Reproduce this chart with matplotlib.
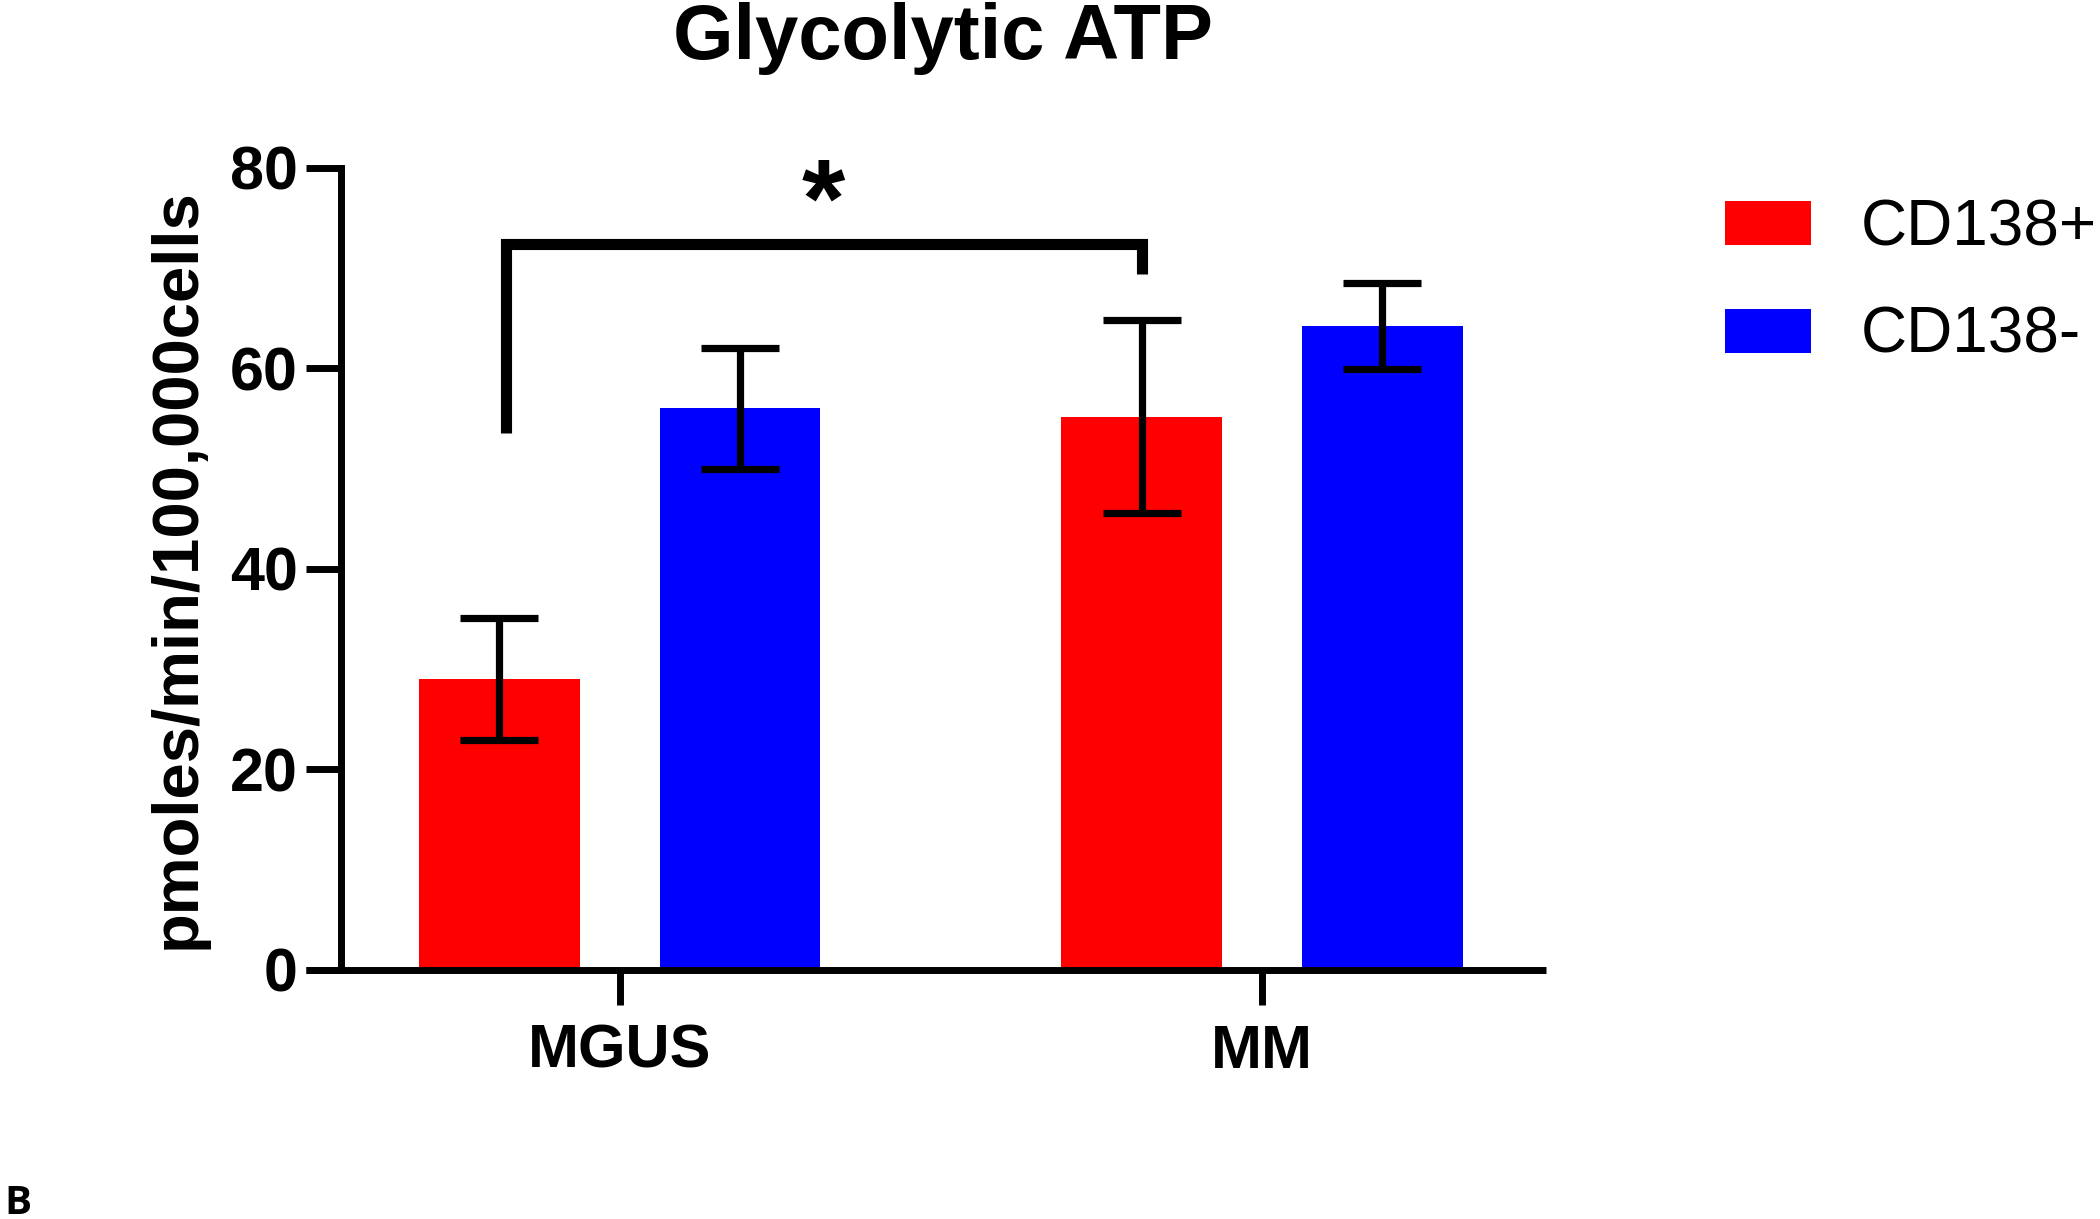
import numpy as np
import matplotlib
matplotlib.use("Agg")
import matplotlib.pyplot as plt
from matplotlib.patches import Patch
from matplotlib.lines import Line2D

# data
groups = ["MGUS", "MM"]
series = ["CD138+", "CD138-"]
colors = ["#ff0000", "#0000ff"]
cd138_pos = [29.0, 55.2]
cd138_pos_err = [6.1, 9.6]
cd138_neg = [56.0, 64.2]
cd138_neg_err = [6.0, 4.3]
y_ticks = [0, 20, 40, 60, 80]

# significance bracket (MGUS CD138+ vs MM CD138+)
bracket_left_y = 53.6
bracket_top_y = 72.4
bracket_right_y = 69.4
star_y = 73.2

plt.rcParams['font.family'] = ['Liberation Sans', 'DejaVu Sans']

fig = plt.figure(figsize=(21, 12.19), dpi=100)
ax = fig.add_axes([0.1624, 0.2045, 0.574, 0.6577])

x = np.arange(len(groups))
width = 0.25
offset = 0.1875

err_kw = dict(elinewidth=5.2, capthick=5.2, ecolor="black")
ax.bar(x - offset, cd138_pos, width, color=colors[0], yerr=cd138_pos_err,
       capsize=28, error_kw=err_kw, label=series[0])
ax.bar(x + offset, cd138_neg, width, color=colors[1], yerr=cd138_neg_err,
       capsize=28, error_kw=err_kw, label=series[1])

# bracket
bx0 = x[0] - offset + 0.01
bx1 = x[1] - offset
ax.plot([bx0, bx0, bx1, bx1], [bracket_left_y, bracket_top_y, bracket_top_y, bracket_right_y],
        color="black", lw=8, solid_joinstyle="miter", solid_capstyle="butt", clip_on=False)
ax.text((bx0 + bx1) / 2, star_y, "*", ha="center", va="baseline",
        fontsize=80, fontweight="bold")

ax.set_xlim(-0.434, 1.443)
ax.set_ylim(0, 80)
ax.set_yticks(y_ticks)
ax.set_xticks(x)
ax.set_xticklabels(groups)

for s in ["top", "right", "bottom"]:
    ax.spines[s].set_visible(False)
ax.spines["left"].set_linewidth(5)
ax.add_line(Line2D([-0.029, 1.0], [0, 0], transform=ax.transAxes, color="black",
                   lw=5, clip_on=False, solid_capstyle="butt"))

ax.tick_params(axis="y", length=25, width=5, pad=6, labelsize=44)
ax.tick_params(axis="x", length=25, width=5, pad=14, labelsize=44)
for lab in ax.get_xticklabels() + ax.get_yticklabels():
    lab.set_fontweight("bold")

fig.text(0.099, 0.5332, "pmoles/min/100,000cells", rotation=90, ha="right", va="center",
         fontsize=47, fontweight="bold")
fig.text(0.449, 0.952, "Glycolytic ATP", ha="center", va="baseline",
         fontsize=56, fontweight="bold")

handles = [Patch(facecolor=c, edgecolor="none") for c in colors]
fig.legend(handles, series, loc="upper left", bbox_to_anchor=(0.8214, 0.837),
           frameon=False, fontsize=46, handlelength=1.35, handleheight=0.68,
           handletextpad=0.78, labelspacing=0.74, borderpad=0, borderaxespad=0)

fig.text(0.002, 0.004, "B", ha="left", va="baseline", fontsize=29, fontweight="bold",
         family=["Open Sans", "DejaVu Sans"])

fig.savefig("out.png", dpi=100)
